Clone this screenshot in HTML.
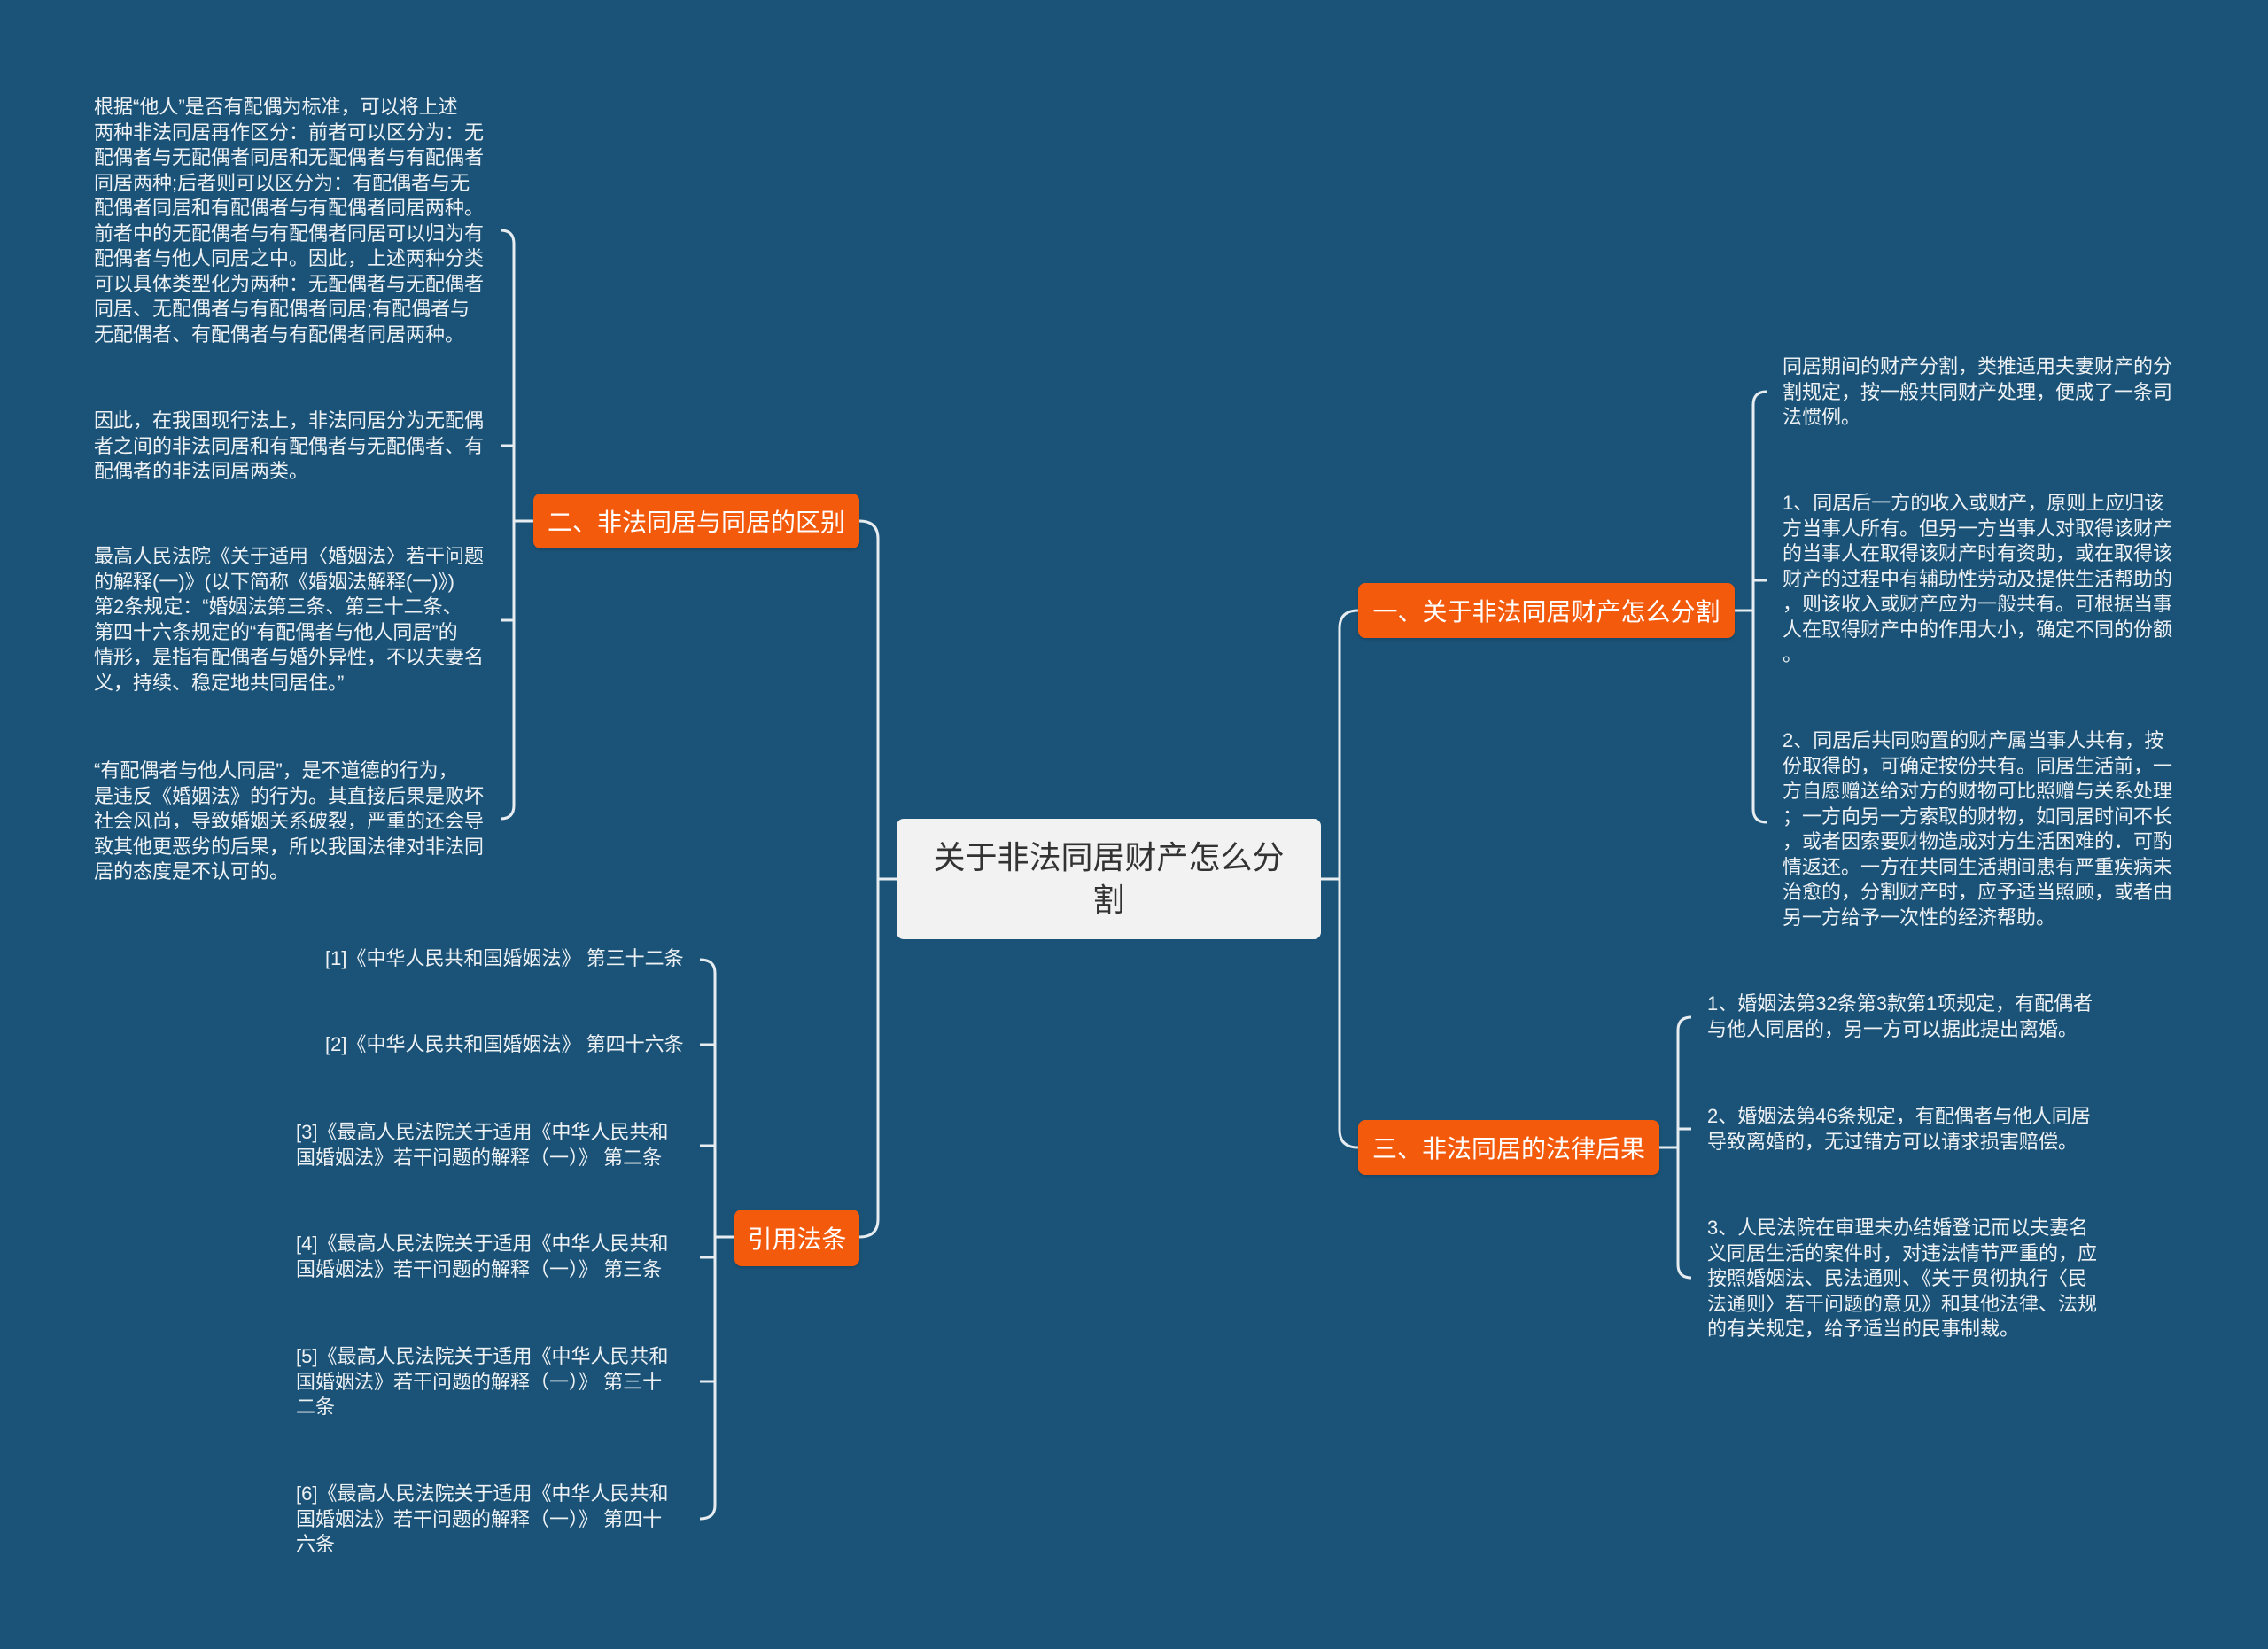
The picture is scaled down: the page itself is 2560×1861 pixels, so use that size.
<!DOCTYPE html>
<html><head><meta charset="utf-8"><style>
html,body{margin:0;padding:0;}
body{width:2560px;height:1861px;background:#1b5378;position:relative;overflow:hidden;font-family:"Liberation Sans","Noto Sans CJK SC",sans-serif;}
.t{position:absolute;color:#eef2f5;font-size:22px;line-height:28.5px;white-space:nowrap;}
.n{position:absolute;background:#f45a0c;color:#fff;font-size:28px;border-radius:8px;display:flex;align-items:center;justify-content:center;white-space:nowrap;box-shadow:0 2px 3px rgba(0,0,0,.15);}
.c{position:absolute;left:1012px;top:924px;width:479px;height:136px;background:#f2f2f2;border-radius:8px;color:#333;font-size:36px;line-height:48px;text-align:center;display:flex;align-items:center;justify-content:center;}
svg{position:absolute;left:0;top:0;}
</style></head><body>
<svg width="2560" height="1861" fill="none" stroke="#e6ecf0" stroke-width="3">
<path d="M1012 992 H991"/>
<path d="M970 588 Q991 588 991 608 V1376 Q991 1396 970 1396"/>
<path d="M1491 992 H1512"/>
<path d="M1533 689 Q1512 689 1512 709 V1275 Q1512 1295 1533 1295"/>
<path d="M602 588 H580"/>
<path d="M565 260 Q580 260 580 275 V909 Q580 924 565 924"/>
<path d="M565 503 H580 M565 700 H580"/>
<path d="M1958 689 H1979"/>
<path d="M1994 442 Q1979 442 1979 457 V913 Q1979 928 1994 928"/>
<path d="M1994 655 H1979"/>
<path d="M1873 1295 H1894"/>
<path d="M1909 1148 Q1894 1148 1894 1163 V1427 Q1894 1442 1909 1442"/>
<path d="M1909 1274 H1894"/>
<path d="M829 1396 H807"/>
<path d="M790 1083 Q807 1083 807 1098 V1699 Q807 1714 790 1714"/>
<path d="M790 1179 H807 M790 1293 H807 M790 1419 H807 M790 1559 H807"/>
</svg>

<div class="c">关于非法同居财产怎么分<br>割</div>
<div class="n" style="left:602px;top:557px;width:368px;height:62px;">二、非法同居与同居的区别</div>
<div class="n" style="left:1533px;top:658px;width:425px;height:62px;">一、关于非法同居财产怎么分割</div>
<div class="n" style="left:1533px;top:1264px;width:340px;height:62px;">三、非法同居的法律后果</div>
<div class="n" style="left:829px;top:1365px;width:141px;height:64px;">引用法条</div>

<div class="t" style="left:106px;top:107px;">根据“他人”是否有配偶为标准，可以将上述<br>两种非法同居再作区分：前者可以区分为：无<br>配偶者与无配偶者同居和无配偶者与有配偶者<br>同居两种;后者则可以区分为：有配偶者与无<br>配偶者同居和有配偶者与有配偶者同居两种。<br>前者中的无配偶者与有配偶者同居可以归为有<br>配偶者与他人同居之中。因此，上述两种分类<br>可以具体类型化为两种：无配偶者与无配偶者<br>同居、无配偶者与有配偶者同居;有配偶者与<br>无配偶者、有配偶者与有配偶者同居两种。</div>
<div class="t" style="left:106px;top:461px;">因此，在我国现行法上，非法同居分为无配偶<br>者之间的非法同居和有配偶者与无配偶者、有<br>配偶者的非法同居两类。</div>
<div class="t" style="left:106px;top:614px;">最高人民法院《关于适用〈婚姻法〉若干问题<br>的解释(一)》(以下简称《婚姻法解释(一)》)<br>第2条规定：“婚姻法第三条、第三十二条、<br>第四十六条规定的“有配偶者与他人同居”的<br>情形，是指有配偶者与婚外异性，不以夫妻名<br>义，持续、稳定地共同居住。”</div>
<div class="t" style="left:106px;top:856px;">“有配偶者与他人同居”，是不道德的行为，<br>是违反《婚姻法》的行为。其直接后果是败坏<br>社会风尚，导致婚姻关系破裂，严重的还会导<br>致其他更恶劣的后果，所以我国法律对非法同<br>居的态度是不认可的。</div>

<div class="t" style="left:2012px;top:400px;">同居期间的财产分割，类推适用夫妻财产的分<br>割规定，按一般共同财产处理，便成了一条司<br>法惯例。</div>
<div class="t" style="left:2012px;top:554px;">1、同居后一方的收入或财产，原则上应归该<br>方当事人所有。但另一方当事人对取得该财产<br>的当事人在取得该财产时有资助，或在取得该<br>财产的过程中有辅助性劳动及提供生活帮助的<br>，则该收入或财产应为一般共有。可根据当事<br>人在取得财产中的作用大小，确定不同的份额<br>。</div>
<div class="t" style="left:2012px;top:822px;">2、同居后共同购置的财产属当事人共有，按<br>份取得的，可确定按份共有。同居生活前，一<br>方自愿赠送给对方的财物可比照赠与关系处理<br>；一方向另一方索取的财物，如同居时间不长<br>，或者因索要财物造成对方生活困难的．可酌<br>情返还。一方在共同生活期间患有严重疾病未<br>治愈的，分割财产时，应予适当照顾，或者由<br>另一方给予一次性的经济帮助。</div>

<div class="t" style="left:1927px;top:1119px;">1、婚姻法第32条第3款第1项规定，有配偶者<br>与他人同居的，另一方可以据此提出离婚。</div>
<div class="t" style="left:1927px;top:1246px;">2、婚姻法第46条规定，有配偶者与他人同居<br>导致离婚的，无过错方可以请求损害赔偿。</div>
<div class="t" style="left:1927px;top:1372px;">3、人民法院在审理未办结婚登记而以夫妻名<br>义同居生活的案件时，对违法情节严重的，应<br>按照婚姻法、民法通则、《关于贯彻执行〈民<br>法通则〉若干问题的意见》和其他法律、法规<br>的有关规定，给予适当的民事制裁。</div>

<div class="t" style="left:367px;top:1068px;">[1]《中华人民共和国婚姻法》 第三十二条</div>
<div class="t" style="left:367px;top:1165px;">[2]《中华人民共和国婚姻法》 第四十六条</div>
<div class="t" style="left:334px;top:1264px;">[3]《最高人民法院关于适用《中华人民共和<br>国婚姻法》若干问题的解释（一）》 第二条</div>
<div class="t" style="left:334px;top:1390px;">[4]《最高人民法院关于适用《中华人民共和<br>国婚姻法》若干问题的解释（一）》 第三条</div>
<div class="t" style="left:334px;top:1517px;">[5]《最高人民法院关于适用《中华人民共和<br>国婚姻法》若干问题的解释（一）》 第三十<br>二条</div>
<div class="t" style="left:334px;top:1672px;">[6]《最高人民法院关于适用《中华人民共和<br>国婚姻法》若干问题的解释（一）》 第四十<br>六条</div>
</body></html>
